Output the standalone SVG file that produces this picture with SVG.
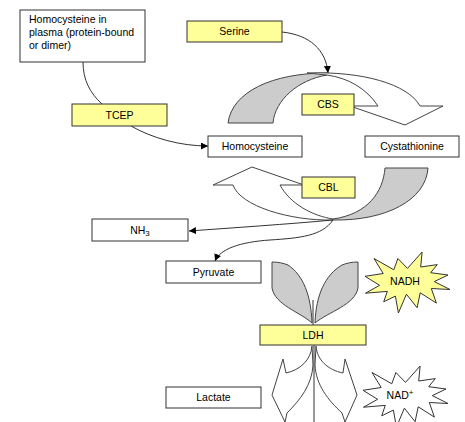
<svg xmlns="http://www.w3.org/2000/svg" width="465" height="422" viewBox="0 0 465 422">
<defs>
<marker id="ah" viewBox="0 0 10 10" refX="10" refY="5" markerWidth="7" markerHeight="7" markerUnits="userSpaceOnUse" orient="auto"><path d="M0,0 L10,5 L0,10 Z" fill="#000"/></marker>
<polygon id="seal" points="407.5,268.4 422.1,252 420.7,267 437.3,264.6 430.7,272.7 448,275 434.3,281.6 450,289.5 431.3,288.5 436.4,303.1 420.2,292.8 417.1,307.7 406.4,294.2 398.4,313 395.4,296.1 383.7,301.8 387.3,291.4 365.5,293.2 379.6,285.3 365,276.3 383.2,273.5 374,258.5 393.8,269.8 397.9,258.5"/>
</defs>
<style>
text{font-family:"Liberation Sans",Arial,sans-serif;font-size:10.5px;fill:#000}
.c{text-anchor:middle}
.box{fill:#fff;stroke:#333;stroke-width:1}
.enz{fill:#ffff99;stroke:#333;stroke-width:1}
.gray{fill:#cccccc;stroke:#444;stroke-width:1}
.white{fill:#fff;stroke:#444;stroke-width:1}
.ln{fill:none;stroke:#333;stroke-width:1}
.arr{fill:none;stroke:#333;stroke-width:1;marker-end:url(#ah)}
</style>
<rect width="465" height="422" fill="#fff"/>
<g id="reaction-shapes">
<path class="gray" d="M228,123 C232,92 272,73 327,73 L327,75 C298,80 275,100 273,123 Z"/>
<path class="white" d="M307,73 C362,71 408,84 420,106 L443,106 L405,125 L350,106 L378,106 C366,88 348,78 327,75 Z"/>
<path class="white" d="M333,220 C290,221 240,206 233,185 L213,185 L252,167 L304,185 L280,185 C290,204 313,216 333,219 Z"/>
<path class="gray" d="M333,219 C368,214 383,192 385,168 L428,168 C426,200 386,221 333,220 Z"/>
<path class="gray" d="M272,262 C278,262 283,263 288,265 C303,275 311,295 312,323 C300,312 275,305 272,288 Z"/>
<path class="gray" d="M358,262 C352,262 347,263 342,265 C325,275 316,295 315,323 C328,312 355,305 358,288 Z"/>
<path class="ln" d="M313,300 L313,325"/>
<path class="white" d="M312,346 C311,360 300,370 286,373 L283,359 L272,395 L285,422 L287,413 C300,400 312,385 313,365 Z"/>
<path class="white" d="M316,346 C317,360 328,370 343,373 L345,359 L357,395 L345,422 L342,413 C328,400 316,385 315,365 Z"/>
<path class="ln" d="M314,345 L314,422"/>
</g>
<g id="connectors">
<path class="ln" d="M83,62 C83,80 90,93 102,104"/>
<path class="arr" d="M131,126 C152,138 180,146 208,146"/>
<path class="arr" d="M282,32 C310,35 326,50 328,73"/>
<path class="arr" d="M333,220 C290,224 230,228 189,231"/>
<path class="arr" d="M333,220 C322,236 300,238 270,240 C240,242 220,249 215,261"/>
</g>
<g id="hcy-plasma"><rect class="box" x="20" y="10" width="125" height="52"/><text x="29" y="23">Homocysteine in</text><text x="29" y="36">plasma (protein-bound</text><text x="29" y="49">or dimer)</text></g>
<g id="serine"><rect class="enz" x="187" y="21" width="95" height="21"/><text class="c" x="234.5" y="35">Serine</text></g>
<g id="tcep"><rect class="enz" x="72" y="104" width="95" height="22"/><text class="c" x="119.5" y="119">TCEP</text></g>
<g id="homocysteine"><rect class="box" x="208" y="136" width="94" height="21"/><text class="c" x="255" y="150">Homocysteine</text></g>
<g id="cystathionine"><rect class="box" x="365" y="136" width="94" height="21"/><text class="c" x="412" y="150">Cystathionine</text></g>
<g id="cbs"><rect class="enz" x="302" y="94" width="52" height="21"/><text class="c" x="328" y="108">CBS</text></g>
<g id="cbl"><rect class="enz" x="302" y="177" width="53" height="21"/><text class="c" x="328.5" y="191">CBL</text></g>
<g id="nh3"><rect class="box" x="92" y="219" width="96" height="22"/><text class="c" x="140" y="234">NH<tspan font-size="8" dy="1.5">3</tspan></text></g>
<g id="pyruvate"><rect class="box" x="166" y="261" width="95" height="22"/><text class="c" x="213.5" y="276">Pyruvate</text></g>
<g id="ldh"><rect class="enz" x="260" y="325" width="106" height="20"/><text class="c" x="313" y="339">LDH</text></g>
<g id="lactate"><rect class="box" x="166" y="387" width="95" height="21"/><text class="c" x="213.5" y="401">Lactate</text></g>
<g id="nadh"><use href="#seal" fill="#ffff99" stroke="#333" stroke-width="1"/><text class="c" x="405" y="285">NADH</text></g>
<g id="nad"><use href="#seal" transform="translate(-2,114)" fill="#fff" stroke="#333" stroke-width="1"/><text class="c" x="400" y="399">NAD<tspan font-size="8" dy="-4">+</tspan></text></g>
</svg>
